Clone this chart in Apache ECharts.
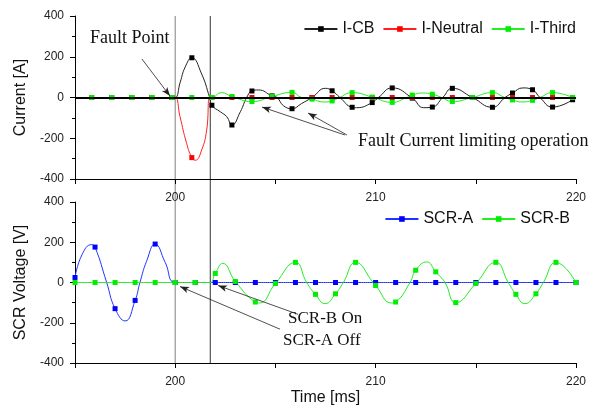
<!DOCTYPE html>
<html>
<head>
<meta charset="utf-8">
<script src="https://cdn.jsdelivr.net/npm/echarts@6/dist/echarts.min.js"></script>
<style>
html, body { margin: 0; padding: 0; background: #fff; }
#myChart { width: 601px; height: 407px; }
</style>
</head>
<body>
<div id="myChart"></div>
<script>
/* 故障电流 / SCR 电压 */

// top panel: marker times (ms) and values at them
var topMarkT = [195.83, 196.83, 197.83, 198.83, 199.83, 200.83, 201.83, 202.83, 203.83, 204.83,
    205.83, 206.83, 207.83, 208.83, 209.83, 210.83, 211.83, 212.83, 213.83, 214.83,
    215.83, 216.83, 217.83, 218.83, 219.83];
var cbMark = [0, 0, 0, 0, 0, 195, -38, -135, 32, 8, -55, 0, 33, -48, -25, 47, -3, -47, 45, 0, -48, 22, 38, -47, -11];
var neutralMark = [0, 0, 0, 0, 0, -295, 0, 0, 0, 0, 0, 0, 0, 0, 0, 0, 0, 0, 0, 0, 0, 0, 0, 0, 0];
var thirdMark = [0, 0, 0, 0, 0, 0, 0, 5, -20, 5, 25, -8, -17, 24, 2, -24, 12, 16, -20, 0, 24, -12, -14, 24, 0];

// extra points
var cbKnots = [[195, 0], [200, 0], [200.25, 75], [200.5, 150], [201.3, 120], [201.72, 0], [202.25, -70],
    [202.57, -94], [203.25, -70], [203.57, 0], [204.15, 37], [205.08, 0], [205.4, -40], [206.3, -30],
    [207.5, 45], [208.22, 0], [209.05, -50], [210.14, 0], [212.4, -50], [213.35, 0], [216.46, 0],
    [217.35, 47], [218.2, 0]];
var neutralKnots = [[195, 0], [200, 0], [200.24, -94], [200.57, -225], [201.0, -308], [201.32, -258],
    [201.57, -160], [201.72, 0]];
var thirdKnots = [[195, 0], [201.7, 0], [202.3, 24], [206.3, 0], [207.4, -22], [208.2, 0], [211.55, 0],
    [212.35, 22], [213.3, 0], [216.45, 0], [217.3, -22], [218.2, 0]];

// bottom panel
var botMarkT = [195, 196, 197, 198, 199, 200, 201, 202, 203, 204, 205, 206, 207, 208, 209, 210,
    211, 212, 213, 214, 215, 216, 217, 218, 219, 220];
var scrAMark = [25, 176, -130, -89, 191, 0, 0, 0, 0, 0, 0, 0, 0, 0, 0, 0, 0, 0, 0, 0, 0, 0, 0, 0, 0, 0];
var scrBMark = [0, 0, 0, 0, 0, 0, 0, 45, 5, -97, -5, 100, -59, -56, 100, -15, -97, 61, 53, -100, -5, 100, -59, -56, 100, 0];
var scrAKnots = [[195.35, 138], [195.83, 188], [196.58, 0], [197.5, -191], [198.24, 0], [198.57, 105], [199.5, 100]];
var scrBKnots = [[201.5, 0], [201.75, 0], [202.37, 95], [204.2, -102], [206.56, 0], [207.48, -105], [208.39, 0],
    [209.88, 0], [210.8, -102], [211.72, 0], [212.55, 102], [213.46, 0], [216.62, 0], [217.45, -105], [218.37, 0]];

var xTicks = [200, 210, 220];
var faultT = 200, limitT = 201.75;

// annotation arrows [from, to] in data units
var arrowsTop = [[[198.34, 189], [199.74, 7]], [[208.47, -184], [204.33, -47]], [[208.57, -184], [206.63, -76]]];
var arrowsBot = [[[205.23, -232], [200.24, -20]], [[206.13, -158], [202.14, -15]]];

var myChart = echarts.init(document.getElementById('myChart'));
var sans = "'Liberation Sans', Arial, sans-serif";
var serif = "'Liberation Serif', 'Times New Roman', serif";

function buildLine(markT, markV, knots) {
    var pts = [];
    for (var i = 0; i < markT.length; i++) {
        pts.push({ value: [markT[i], markV[i]], symbol: 'rect' });
    }
    for (var j = 0; j < knots.length; j++) {
        var near = false;
        for (var k = 0; k < markT.length; k++) {
            if (Math.abs(markT[k] - knots[j][0]) < 0.02) near = true;
        }
        if (!near) pts.push({ value: knots[j], symbol: 'none' });
    }
    pts.sort(function (a, b) { return a.value[0] - b.value[0]; });
    return pts;
}

function arrowData(list) {
    var out = [];
    list.forEach(function (a) {
        out.push([
            { coord: a[0], symbol: 'none', lineStyle: { color: '#222', width: 0.8, type: 'solid' } },
            { coord: a[1], symbol: 'arrow' }
        ]);
    });
    return out;
}

function lineSeries(name, color, lineColor, idx, data) {
    return {
        name: name,
        type: 'line',
        xAxisIndex: idx,
        yAxisIndex: idx,
        data: data,
        smooth: 0.5,
        symbol: 'rect',
        symbolSize: 5,
        showSymbol: true,
        animation: false,
        lineStyle: { color: lineColor, width: 1 },
        itemStyle: { color: color }
    };
}

function xAxisOpt(idx, named) {
    return {
        type: 'value', gridIndex: idx, min: 195, max: 220, interval: 5,
        name: named ? 'Time [ms]' : '',
        nameLocation: 'middle', nameGap: 27,
        nameTextStyle: { fontFamily: sans, fontSize: 16, color: '#111' },
        axisLine: { onZero: false, lineStyle: { color: '#000', width: 1 } },
        axisTick: { length: 5, lineStyle: { color: '#000' } },
        splitLine: { show: false },
        axisLabel: {
            margin: 13, fontFamily: sans, fontSize: 12, color: '#222',
            formatter: function (v) { return xTicks.indexOf(v) >= 0 ? String(v) : ''; }
        }
    };
}

function yAxisOpt(idx, name) {
    return {
        type: 'value', gridIndex: idx, min: -400, max: 400, interval: 200,
        name: name, nameLocation: 'middle', nameGap: 39,
        nameTextStyle: { fontFamily: sans, fontSize: 16, color: '#111' },
        axisLine: { show: true, onZero: false, lineStyle: { color: '#000', width: 1 } },
        axisTick: { show: true, length: 5, lineStyle: { color: '#000' } },
        minorTick: { show: true, splitNumber: 2, length: 3, lineStyle: { color: '#000' } },
        splitLine: { show: false },
        axisLabel: { margin: 11, fontFamily: sans, fontSize: 12, color: '#222' }
    };
}

var cb = lineSeries('I-CB', '#000', '#222', 0, buildLine(topMarkT, cbMark, cbKnots));
cb.markLine = {
    silent: true, animation: false, label: { show: false },
    symbol: ['none', 'none'], symbolSize: [5, 9],
    data: [{ yAxis: 0, lineStyle: { color: '#000', width: 2, type: 'solid' } }].concat(arrowData(arrowsTop))
};
var neutral = lineSeries('I-Neutral', '#ff0000', '#ff2020', 0, buildLine(topMarkT, neutralMark, neutralKnots));
var third = lineSeries('I-Third', '#00ee00', '#22ee22', 0, buildLine(topMarkT, thirdMark, thirdKnots));
var scrA = lineSeries('SCR-A', '#0000ff', '#2233ff', 1, buildLine(botMarkT, scrAMark, scrAKnots));
scrA.markLine = {
    silent: true, animation: false, label: { show: false },
    symbol: ['none', 'arrow'], symbolSize: [5, 9],
    data: arrowData(arrowsBot)
};
var scrB = lineSeries('SCR-B', '#00ee00', '#22ee22', 1, buildLine(botMarkT, scrBMark, scrBKnots));

var legendBase = {
    itemWidth: 33, itemHeight: 7, itemGap: 8, padding: 0,
    textStyle: { fontFamily: sans, fontSize: 16, color: '#111' }
};

var option = {
    animation: false,
    backgroundColor: '#fff',
    grid: [
        { left: 75, right: 25, top: 16, height: 163 },
        { left: 75, right: 25, top: 202, height: 162 }
    ],
    legend: [
        echarts.util.merge({ data: ['I-CB', 'I-Neutral', 'I-Third'], right: 25, top: 21 }, legendBase),
        echarts.util.merge({ data: ['SCR-A', 'SCR-B'], right: 31, top: 211 }, legendBase)
    ],
    xAxis: [xAxisOpt(0, false), xAxisOpt(1, true)],
    yAxis: [yAxisOpt(0, 'Current [A]'), yAxisOpt(1, 'SCR Voltage [V]')],
    series: [cb, neutral, third, scrA, scrB]
};
myChart.setOption(option);

// vertical marker lines across both panels + text notes
var x1 = myChart.convertToPixel({ xAxisIndex: 0 }, faultT);
var x2 = myChart.convertToPixel({ xAxisIndex: 0 }, limitT);
function note(text, x, y, size) {
    return { type: 'text', x: x, y: y, silent: true,
        style: { text: text, fontFamily: serif, fontSize: size, fill: '#111', verticalAlign: 'middle' } };
}
myChart.setOption({
    graphic: [
        { type: 'line', silent: true, shape: { x1: x1, y1: 16, x2: x1, y2: 364 }, style: { stroke: '#808080', lineWidth: 1 } },
        { type: 'line', silent: true, shape: { x1: x2, y1: 16, x2: x2, y2: 364 }, style: { stroke: '#333', lineWidth: 1 } },
        note('Fault Point', 90, 38, 18),
        note('Fault Current limiting operation', 358, 141, 18),
        note('SCR-B On', 288, 319, 17),
        note('SCR-A Off', 283, 341, 17)
    ]
});
</script>
</body>
</html>
